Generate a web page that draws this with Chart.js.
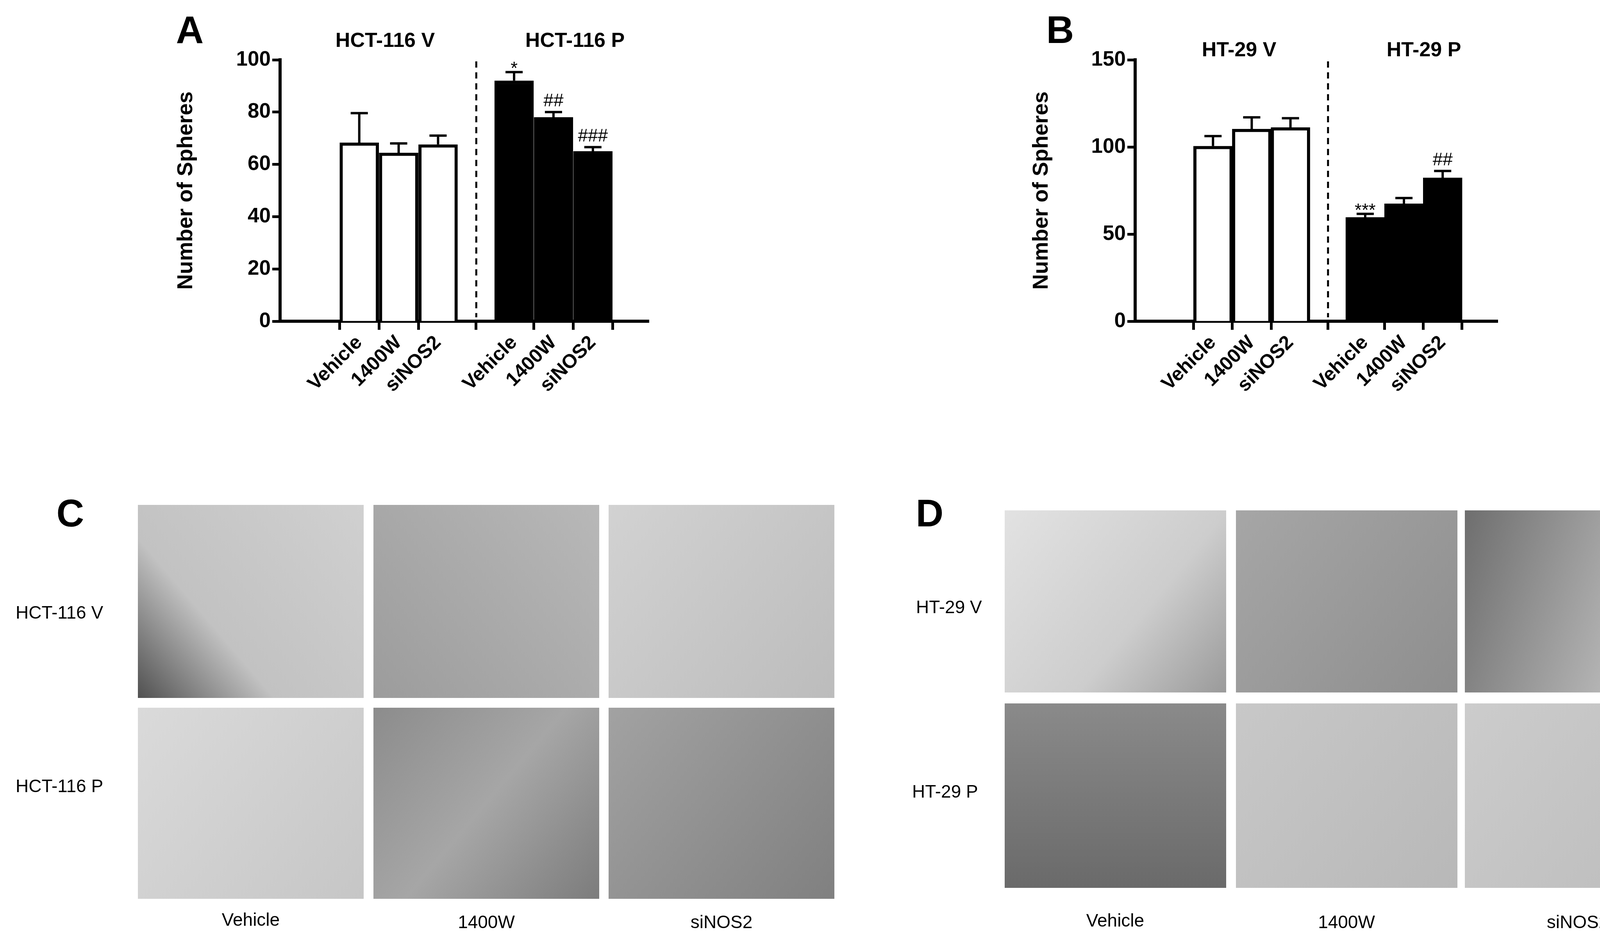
<!DOCTYPE html>
<html>
<head>
<meta charset="utf-8">
<script src="https://cdn.jsdelivr.net/npm/chart.js@4"></script>
<style>
body { margin: 0; background: #fff; width: 4356px; height: 2431px; position: relative; overflow: hidden; font-family: "Liberation Sans", Arial, sans-serif; }
.box { position: absolute; }
</style>
</head>
<body>
<canvas id="bg" width="4356" height="2431" style="position:absolute;left:0;top:0"></canvas>
<div class="box" style="left:440px;top:0;width:1340px;height:1060px"><canvas id="chartA"></canvas></div>
<div class="box" style="left:2630px;top:0;width:1320px;height:1060px"><canvas id="chartB"></canvas></div>
<script>
// categories
let treatments = ['Vehicle', '1400W', 'siNOS2', 'Vehicle', '1400W', 'siNOS2'];
let xPos = [1.23, 2.23, 3.23, 5.16, 6.16, 7.16];

// panel A: HCT-116
let hctMeans = [68.3, 64.4, 67.6, 92.0, 78.0, 65.0];
let hctUpper = [79.6, 68.0, 71.0, 95.3, 80.0, 66.6];
let hctMarks = ['', '', '', '*', '##', '###'];

// panel B: HT-29
let htMeans = [100.5, 110.3, 111.2, 59.6, 67.4, 82.3];
let htUpper = [106.2, 117.0, 116.5, 61.6, 70.7, 86.2];
let htMarks = ['', '', '', '***', '', '##'];

let barColors = ['#fff', '#fff', '#fff', '#000', '#000', '#000'];
const FONT = '"Liberation Sans", Arial, sans-serif';

let extras = {
	id: 'extras',
	afterDatasetsDraw(chart, args, opts) {
		const c = chart.ctx, x = chart.scales.x, y = chart.scales.y;
		c.save();
		c.strokeStyle = '#000';
		c.fillStyle = '#000';
		// error bars
		c.lineWidth = 6;
		opts.means.forEach((m, i) => {
			let px = x.getPixelForValue(xPos[i]);
			let y0 = y.getPixelForValue(m), y1 = y.getPixelForValue(opts.upper[i]);
			c.beginPath();
			c.moveTo(px, y0); c.lineTo(px, y1);
			c.moveTo(px - 22, y1); c.lineTo(px + 22, y1);
			c.stroke();
			if (opts.marks[i]) {
				c.font = '46px ' + FONT;
				c.textAlign = 'center';
				c.textBaseline = 'bottom';
				c.fillText(opts.marks[i], px, y1 - 4 + (opts.marks[i].indexOf('*') >= 0 ? 20 : 0));
			}
		});
		// dashed divider
		let dx = x.getPixelForValue(opts.divider);
		c.lineWidth = 5;
		c.setLineDash([16, 12]);
		c.beginPath();
		c.moveTo(dx, chart.chartArea.top + 4);
		c.lineTo(dx, chart.chartArea.bottom - 10);
		c.stroke();
		c.restore();
	}
};

let makeChart = function (id, means, upper, marks, yMax, yStep, yW, padRight) {
	return new Chart(document.getElementById(id), {
		type: 'bar',
		data: {
			datasets: [{
				data: means.map((v, i) => ({ x: xPos[i], y: v })),
				backgroundColor: barColors,
				borderColor: '#000',
				borderWidth: 8,
				borderSkipped: 'bottom',
				barThickness: 100
			}]
		},
		options: {
			responsive: true,
			maintainAspectRatio: false,
			animation: false,
			devicePixelRatio: 1,
			layout: { padding: { top: 153, right: padRight, left: 0, bottom: 0 } },
			plugins: {
				legend: { display: false },
				tooltip: { enabled: false },
				extras: { means: means, upper: upper, marks: marks, divider: 4.2 }
			},
			scales: {
				x: {
					type: 'linear',
					min: 0,
					max: 7.8,
					afterBuildTicks: s => { s.ticks = xPos.map(v => ({ value: v })); },
					afterFit: s => { s.height = 238; },
					border: { color: '#000', width: 8 },
					grid: { drawOnChartArea: false, drawTicks: true, tickLength: 22, tickWidth: 7, color: '#000' },
					ticks: {
						color: '#000',
						font: { family: FONT, size: 50, weight: 'bold' },
						maxRotation: 45, minRotation: 45,
						padding: 4,
						callback: (v, i) => treatments[i]
					}
				},
				y: {
					min: 0,
					max: yMax,
					afterFit: s => { s.width = yW; },
					border: { color: '#000', width: 8 },
					grid: { drawOnChartArea: false, drawTicks: true, tickLength: 20, tickWidth: 7, color: '#000' },
					ticks: {
						stepSize: yStep,
						color: '#000',
						padding: 4,
						font: { family: FONT, size: 53, weight: 'bold' }
					},
					title: {
						display: true,
						text: 'Number of Spheres',
						color: '#000',
						padding: { bottom: 20 },
						font: { family: FONT, size: 55, weight: 'bold' }
					}
				}
			}
		},
		plugins: [extras]
	});
}

let chartA = makeChart('chartA', hctMeans, hctUpper, hctMarks, 100, 20, 277, 119);
let chartB = makeChart('chartB', htMeans, htUpper, htMarks, 150, 50, 276, 116);

// micrograph panels drawn as plain gray tiles
let bg = document.getElementById('bg').getContext('2d');
let tile = function (x, y, w, h, stops, x0, y0, x1, y1) {
	let g = bg.createLinearGradient(x + x0 * w, y + y0 * h, x + x1 * w, y + y1 * h);
	stops.forEach(s => g.addColorStop(s[0], s[1]));
	bg.fillStyle = g;
	bg.fillRect(x, y, w, h);
}
tile(353, 1292, 578, 494, [[0, '#d0d0d0'], [0.65, '#c2c2c2'], [1, '#505050']], 1, 0, 0, 1);
tile(956, 1292, 578, 494, [[0, '#b8b8b8'], [1, '#9c9c9c']], 1, 0, 0, 1);
tile(1558, 1292, 578, 494, [[0, '#d2d2d2'], [1, '#bcbcbc']], 0, 0, 1, 1);
tile(353, 1811, 578, 489, [[0, '#dadada'], [1, '#c6c6c6']], 0, 0, 1, 1);
tile(956, 1811, 578, 489, [[0, '#8c8c8c'], [0.5, '#a6a6a6'], [1, '#7c7c7c']], 0, 0, 1, 1);
tile(1558, 1811, 578, 489, [[0, '#a2a2a2'], [1, '#808080']], 0, 0, 1, 1);
tile(2572, 1306, 567, 466, [[0, '#e2e2e2'], [0.6, '#cdcdcd'], [1, '#9a9a9a']], 0, 0, 1, 1);
tile(3164, 1306, 567, 466, [[0, '#a6a6a6'], [1, '#8e8e8e']], 0, 0, 1, 1);
tile(3750, 1306, 578, 466, [[0, '#6e6e6e'], [1, '#c8c8c8']], 0, 0, 1, 0.4);
tile(2572, 1800, 567, 472, [[0, '#8a8a8a'], [1, '#6a6a6a']], 0, 0, 0, 1);
tile(3164, 1800, 567, 472, [[0, '#c8c8c8'], [1, '#b8b8b8']], 0, 0, 1, 1);
tile(3750, 1800, 578, 472, [[0, '#cccccc'], [1, '#bcbcbc']], 0, 0, 1, 1);

let text = function (s, x, y, size, bold, align) {
	bg.font = (bold ? 'bold ' : '') + size + 'px ' + FONT;
	bg.fillStyle = '#000';
	bg.textAlign = align || 'center';
	bg.textBaseline = 'middle';
	bg.fillText(s, x, y);
}
text('A', 486, 83, 98, true);
text('B', 2714, 83, 98, true);
text('C', 180, 1320, 98, true);
text('D', 2380, 1320, 98, true);
text('HCT-116 V', 986, 106, 52, true);
text('HCT-116 P', 1472, 106, 52, true);
text('HT-29 V', 3172, 130, 52, true);
text('HT-29 P', 3645, 130, 52, true);
text('HCT-116 V', 40, 1570, 46, false, 'left');
text('HCT-116 P', 40, 2014, 46, false, 'left');
text('HT-29 V', 2345, 1556, 46, false, 'left');
text('HT-29 P', 2335, 2028, 46, false, 'left');
text('Vehicle', 642, 2356, 46);
text('1400W', 1245, 2362, 46);
text('siNOS2', 1847, 2362, 46);
text('Vehicle', 2855, 2358, 46);
text('1400W', 3447, 2362, 46);
text('siNOS2', 4039, 2362, 46);
</script>
</body>
</html>
